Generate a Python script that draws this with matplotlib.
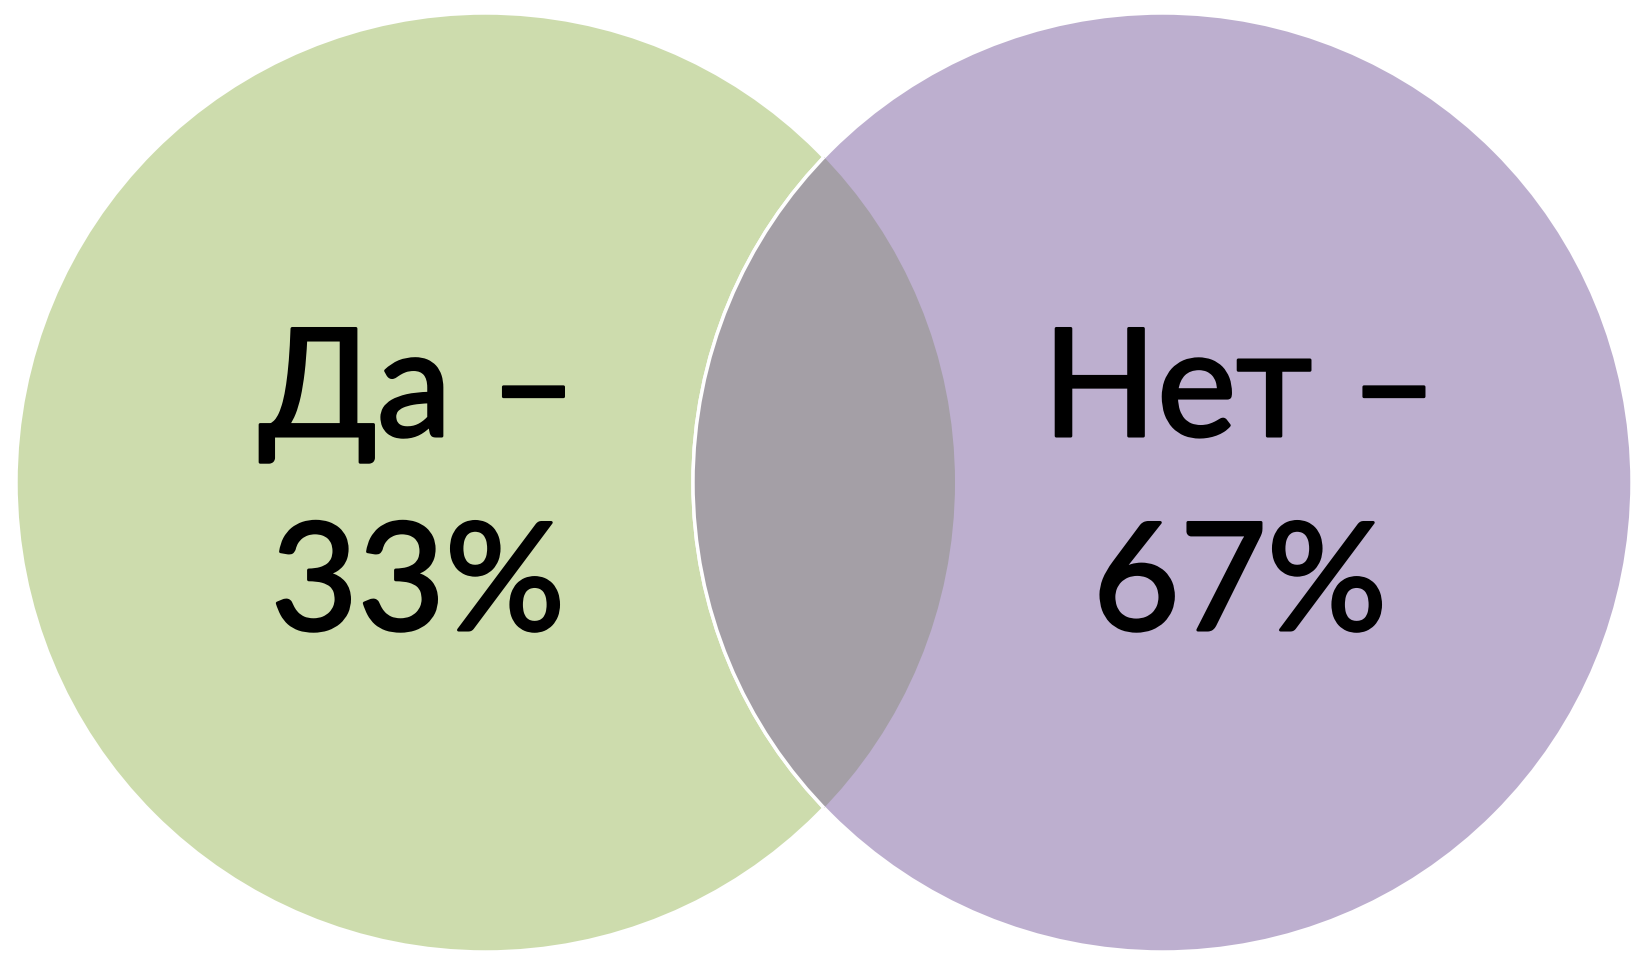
import matplotlib
matplotlib.use("Agg")
import matplotlib.pyplot as plt
import matplotlib.patheffects as pe
from matplotlib.patches import Circle

labels = ["Да", "Нет"]
values = [33, 67]
colors = ["#cddcad", "#bdafcf"]
overlap_color = "#a49fa6"

W, H = 1634, 957
fig = plt.figure(figsize=(W / 100, H / 100), dpi=100)
ax = fig.add_axes([0, 0, 1, 1])
ax.set_xlim(0, W)
ax.set_ylim(H, 0)
ax.set_aspect("equal")
ax.axis("off")

R = 469.5
centers = [(485.5, 482.5), (1162.5, 482.5)]

left = Circle(centers[0], R, facecolor=colors[0], edgecolor="white", lw=2.5, zorder=1)
right = Circle(centers[1], R, facecolor=colors[1], edgecolor="white", lw=2.5, zorder=2)
ax.add_patch(left)
ax.add_patch(right)
ov = Circle(centers[1], R, facecolor=overlap_color, edgecolor="white", lw=2.5, zorder=3)
ax.add_patch(ov)
clip = Circle(centers[0], R, transform=ax.transData)
ov.set_clip_path(clip)

text_x = [418, 1240]
font = dict(family=["Lato", "DejaVu Sans"], fontsize=108, color="black",
            ha="center", va="baseline", zorder=5,
            path_effects=[pe.withStroke(linewidth=2.2, foreground="black")])
for lab, val, tx in zip(labels, values, text_x):
    ax.text(tx, 436, f"{lab} –", **font)
    ax.text(tx, 630, f"{val}%", **font)

fig.savefig("out.png", dpi=100)
